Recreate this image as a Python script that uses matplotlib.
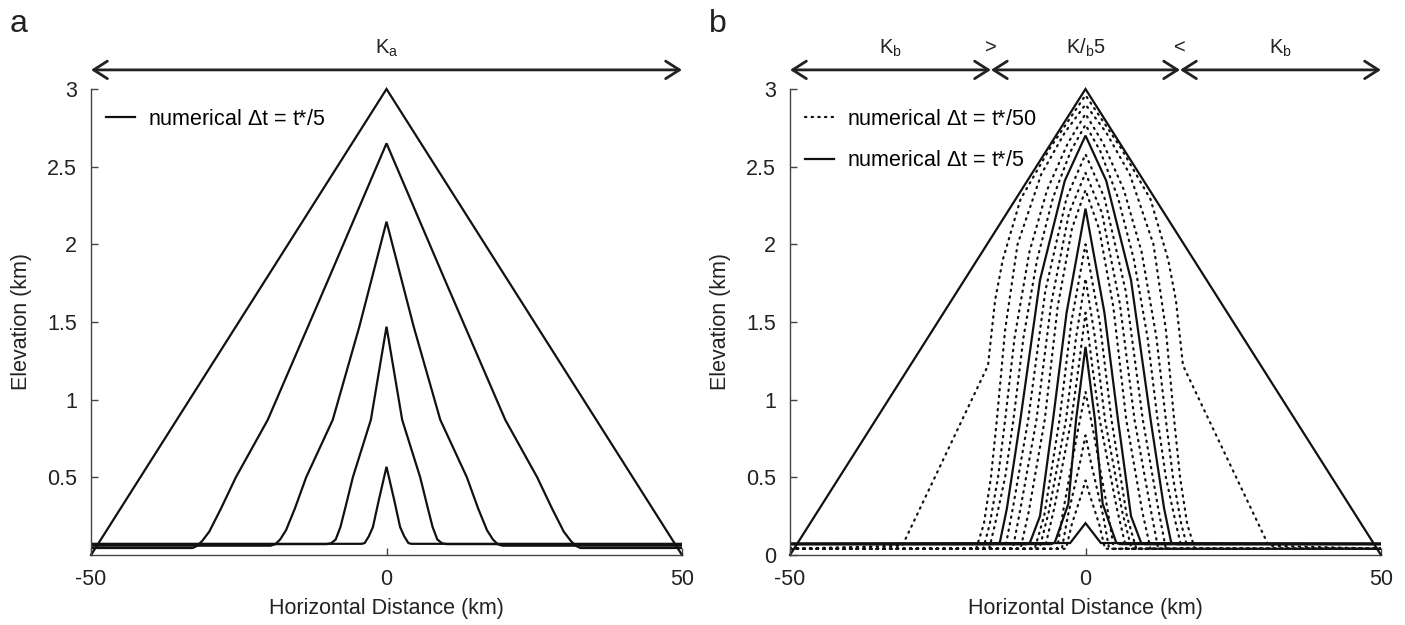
import numpy as np
import matplotlib
matplotlib.use('Agg')
import matplotlib.pyplot as plt
from matplotlib.lines import Line2D

plt.rcParams['font.family'] = ['Liberation Sans', 'DejaVu Sans']
plt.rcParams['mathtext.fontset'] = 'custom'
plt.rcParams['mathtext.rm'] = 'Liberation Sans'
plt.rcParams['mathtext.it'] = 'Liberation Sans'

# ---------------- data (left halves, x in km, z in km; profiles are symmetric) ----------
tri_x = [-50, 0]
tri_z = [0.0, 3.0]

# panel a : numerical dt = t*/5
a_profiles = [
    ([-50, -32.8, -32.0, -31.2, -30.0, -28.0, -25.5, -20.1, -10, 0],
     [0.045, 0.045, 0.06, 0.09, 0.15, 0.3, 0.5, 0.87, 1.76, 2.65]),
    ([-50, -19.6, -18.8, -18.0, -17.0, -15.5, -13.6, -9.1, -4.6, 0],
     [0.06, 0.06, 0.07, 0.1, 0.16, 0.3, 0.5, 0.87, 1.47, 2.146]),
    ([-50, -10.2, -9.4, -8.6, -7.8, -7, -5.7, -2.65, 0],
     [0.07, 0.07, 0.075, 0.1, 0.18, 0.3, 0.5, 0.87, 1.47]),
    ([-50, -4.2, -3.7, -3.0, -2.3, -1.3, 0],
     [0.072, 0.072, 0.077, 0.12, 0.18, 0.354, 0.568]),
]

# panel b : numerical dt = t*/5 (solid)
b_solid = [
    ([-50, -15.5, -14.5, -13.3, -11.1, -7.7, -3.5, 0],
     [0.07, 0.07, 0.08, 0.3, 0.85, 1.77, 2.41, 2.70]),
    ([-50, -10, -9.4, -7.7, -5.5, -3.2, 0],
     [0.07, 0.07, 0.08, 0.25, 0.87, 1.56, 2.23]),
    ([-50, -5.8, -5.2, -2.9, -1.6, 0],
     [0.07, 0.07, 0.08, 0.33, 0.87, 1.34]),
    ([-50, -2.6, 0],
     [0.075, 0.077, 0.205]),
]

# panel b : numerical dt = t*/50 (dotted)
b_dotted = [
    ([-50, -31, -24, -16.5, -15.3, -14.0, -11.0, -6, 0],
     [0.04, 0.06, 0.62, 1.22, 1.64, 1.9, 2.29, 2.62, 2.96]),
    ([-50, -18.5, -17.2, -16.0, -15.0, -13.6, -11.5, -7.5, -3.5, 0],
     [0.04, 0.04, 0.2, 0.5, 0.87, 1.45, 2.0, 2.45, 2.72, 2.90]),
    ([-50, -17.3, -16.2, -14.8, -13.6, -12.0, -9.5, -6.5, -3, 0],
     [0.04, 0.04, 0.2, 0.5, 0.87, 1.4, 1.95, 2.35, 2.65, 2.84]),
    ([-50, -16.3, -15.3, -13.6, -12.2, -10.5, -8.2, -5.5, -2.5, 0],
     [0.04, 0.04, 0.2, 0.5, 0.87, 1.4, 1.9, 2.3, 2.6, 2.77]),
    ([-50, -13.6, -12.3, -9.7, -6.8, -3.2, 0],
     [0.04, 0.04, 0.3, 0.87, 1.7, 2.3, 2.58]),
    ([-50, -12.3, -11.0, -8.3, -5.8, -2.8, 0],
     [0.04, 0.04, 0.3, 0.87, 1.62, 2.2, 2.46]),
    ([-50, -11.0, -9.6, -6.9, -4.7, -2.3, 0],
     [0.04, 0.04, 0.28, 0.87, 1.6, 2.1, 2.35]),
    ([-50, -8.6, -7.0, -4.4, -2.4, 0],
     [0.04, 0.04, 0.25, 0.87, 1.5, 2.0]),
    ([-50, -7.8, -6.2, -3.3, -1.6, 0],
     [0.04, 0.04, 0.28, 0.87, 1.4, 1.78]),
    ([-50, -6.9, -5.3, -2.4, -1.2, 0],
     [0.04, 0.04, 0.3, 0.87, 1.2, 1.56]),
    ([-50, -4.8, -3.7, -1.3, 0],
     [0.04, 0.04, 0.3, 0.8, 1.05]),
    ([-50, -4.0, -3.0, -0.9, 0],
     [0.04, 0.04, 0.25, 0.6, 0.77]),
    ([-50, -3.3, -2.3, -0.6, 0],
     [0.04, 0.04, 0.2, 0.4, 0.48]),
]

zone_edges = [-50, -16, 16, 50]
zone_labels = [r'K$_{\rm b}$', r'K/$_{\rm b}$5', r'K$_{\rm b}$']
xticks = [-50, 0, 50]
a_yticks = [0.5, 1, 1.5, 2, 2.5, 3]
b_yticks = [0, 0.5, 1, 1.5, 2, 2.5, 3]
ytick_labels_a = ['0.5', '1', '1.5', '2', '2.5', '3']
ytick_labels_b = ['0', '0.5', '1', '1.5', '2', '2.5', '3']


def mirror(xl, zl):
    xl = np.asarray(xl, float)
    zl = np.asarray(zl, float)
    x = np.concatenate([xl, -xl[-2::-1]])
    z = np.concatenate([zl, zl[-2::-1]])
    return x, z


DOT_STYLE = dict(color='#111111', lw=1.6, linestyle=(0, (0.6, 2.4)), dash_capstyle='round')
SOLID_STYLE = dict(color='#111111', lw=1.6, solid_joinstyle='miter')
FS = 15.5
TXT = '#222222'

fig = plt.figure(figsize=(14.05, 6.25), dpi=100)
ax_a = fig.add_axes([0.0648, 0.112, 0.4206, 0.7456])
ax_b = fig.add_axes([0.5623, 0.112, 0.4206, 0.7456])


def style_axes(ax, yticks, ylabels):
    ax.set_xlim(-50, 50)
    ax.set_ylim(0, 3)
    for s in ['top', 'right']:
        ax.spines[s].set_visible(False)
    for s in ['left', 'bottom']:
        ax.spines[s].set_color('#444444')
        ax.spines[s].set_linewidth(1.0)
    ax.set_xticks(xticks)
    ax.set_xticklabels([str(v) for v in xticks])
    ax.set_yticks(yticks)
    ax.set_yticklabels(ylabels)
    ax.tick_params(direction='in', length=5, width=1, color='#444444',
                   labelsize=FS, labelcolor=TXT)
    ax.tick_params(axis='x', pad=10)
    ax.tick_params(axis='y', pad=10)
    ax.set_xlabel('Horizontal Distance (km)', fontsize=FS, color=TXT, labelpad=6)
    ax.set_ylabel('Elevation (km)', fontsize=FS, color=TXT, labelpad=11)


# ---- panel a
x, z = mirror(tri_x, tri_z)
ax_a.plot(x, z, **SOLID_STYLE, clip_on=False)
for xl, zl in a_profiles:
    x, z = mirror(xl, zl)
    ax_a.plot(x, z, **SOLID_STYLE)
style_axes(ax_a, a_yticks, ytick_labels_a)
ax_a.legend([Line2D([], [], **SOLID_STYLE)], [r'numerical $\Delta$t = t*/5'],
            loc='upper left', bbox_to_anchor=(0.0, 0.99), frameon=False,
            fontsize=FS, handlelength=1.35, handletextpad=0.6, borderaxespad=0.3)

# ---- panel b
for xl, zl in b_dotted:
    x, z = mirror(xl, zl)
    ax_b.plot(x, z, **DOT_STYLE)
x, z = mirror(tri_x, tri_z)
ax_b.plot(x, z, **SOLID_STYLE, clip_on=False)
for xl, zl in b_solid:
    x, z = mirror(xl, zl)
    ax_b.plot(x, z, **SOLID_STYLE)
style_axes(ax_b, b_yticks, ytick_labels_b)
ax_b.legend([Line2D([], [], **DOT_STYLE), Line2D([], [], **SOLID_STYLE)],
            [r'numerical $\Delta$t = t*/50', r'numerical $\Delta$t = t*/5'],
            loc='upper left', bbox_to_anchor=(0.0, 0.99), frameon=False,
            fontsize=FS, handlelength=1.35, handletextpad=0.6,
            labelspacing=0.95, borderaxespad=0.3)

# ---- arrows above the panels
ARROW_Y = 1.041
LABEL_Y = 1.088
arrow_props = dict(arrowstyle='<->,head_length=0.55,head_width=0.35', lw=2.0,
                   color='#222222', shrinkA=0, shrinkB=0, mutation_scale=18)
ax_a.annotate('', xy=(-50, ARROW_Y), xytext=(50, ARROW_Y),
              xycoords=('data', 'axes fraction'), textcoords=('data', 'axes fraction'),
              arrowprops=arrow_props, annotation_clip=False)
ax_a.text(0, LABEL_Y, r'K$_{\rm a}$', transform=ax_a.get_xaxis_transform(),
          ha='center', va='center', fontsize=FS - 1, color=TXT)

for i in range(3):
    x0, x1 = zone_edges[i], zone_edges[i + 1]
    ax_b.annotate('', xy=(x0, ARROW_Y), xytext=(x1, ARROW_Y),
                  xycoords=('data', 'axes fraction'), textcoords=('data', 'axes fraction'),
                  arrowprops=arrow_props, annotation_clip=False)
    ax_b.text((x0 + x1) / 2, LABEL_Y, zone_labels[i], transform=ax_b.get_xaxis_transform(),
              ha='center', va='center', fontsize=FS - 1, color=TXT)
ax_b.text(zone_edges[1], LABEL_Y, '>', transform=ax_b.get_xaxis_transform(),
          ha='center', va='center', fontsize=FS - 1, color=TXT)
ax_b.text(zone_edges[2], LABEL_Y, '<', transform=ax_b.get_xaxis_transform(),
          ha='center', va='center', fontsize=FS - 1, color=TXT)

fig.text(0.0065, 0.962, 'a', fontsize=23, va='center', ha='left', color=TXT)
fig.text(0.5045, 0.962, 'b', fontsize=23, va='center', ha='left', color=TXT)

fig.savefig('out.png', dpi=100)
